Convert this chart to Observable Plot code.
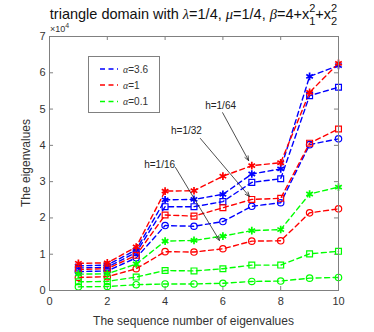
<!DOCTYPE html>
<html><head><meta charset="utf-8">
<script src="https://cdn.jsdelivr.net/npm/d3@7"></script>
<script src="https://cdn.jsdelivr.net/npm/@observablehq/plot@0.6"></script>
<style>body{margin:0;background:#fff;} svg{display:block;}</style>
</head><body>
<div id="chart"></div>
<script>
const seq = [1,2,3,4,5,6,7,8,9,10];
const xTicks = [0,2,4,6,8,10];
const yTicks = [0,1,2,3,4,5,6,7];
const alphaLabels = ["α=3.6","α=1","α=0.1"];
const colors = ["#0000ff","#ff0000","#00ff00"];
// values are in units of 10^4
const blueStar  = [0.68,0.70,1.12,2.50,2.51,2.65,3.21,3.35,5.90,6.20];
const blueSq    = [0.62,0.64,1.05,2.31,2.31,2.45,2.98,3.08,5.37,5.60];
const blueCirc  = [0.52,0.54,0.90,1.79,1.77,1.90,2.32,2.42,4.02,4.18];
const redStar   = [0.75,0.76,1.20,2.74,2.75,3.15,3.44,3.52,5.46,6.26];
const redSq     = [0.58,0.60,0.97,2.08,2.05,2.28,2.51,2.54,4.06,4.45];
const redCirc   = [0.36,0.38,0.60,1.07,1.06,1.15,1.36,1.37,2.14,2.25];
const greenStar = [0.45,0.46,0.73,1.36,1.38,1.50,1.65,1.68,2.66,2.85];
const greenSq   = [0.24,0.25,0.37,0.55,0.54,0.60,0.70,0.70,1.01,1.08];
const greenCirc = [0.10,0.11,0.16,0.18,0.18,0.20,0.25,0.26,0.34,0.36];
const annotations = [
  {label:"h=1/64", tx:5.92, ty:5.10, x1:5.99, y1:4.90, x2:6.89, y2:3.58},
  {label:"h=1/32", tx:4.74, ty:4.41, x1:5.22, y1:4.19, x2:6.92, y2:2.59},
  {label:"h=1/16", tx:3.81, ty:3.47, x1:4.36, y1:3.39, x2:5.88, y2:1.38}
];

const series = [
  {v:blueStar, c:0, s:"asterisk"},{v:blueSq, c:0, s:"square"},{v:blueCirc, c:0, s:"circle"},
  {v:redStar, c:1, s:"asterisk"},{v:redSq, c:1, s:"square"},{v:redCirc, c:1, s:"circle"},
  {v:greenStar, c:2, s:"asterisk"},{v:greenSq, c:2, s:"square"},{v:greenCirc, c:2, s:"circle"}
];

const W = 374, H = 332;
const mL = 49, mR = 36, mT = 36, mB = 42;
const plotH = H - mT - mB;
const font = "'Liberation Sans', Arial, sans-serif";
const axisCol = "#808080", textCol = "#333";

const marks = [];
for (const s of series) {
  const data = seq.map((x,i)=>({x, y:s.v[i]}));
  marks.push(Plot.line(data, {x:"x", y:"y", stroke:colors[s.c], strokeWidth:1.4, strokeDasharray:"5,3.5"}));
}
for (const s of series) {
  const data = seq.map((x,i)=>({x, y:s.v[i]}));
  marks.push(Plot.dot(data, {x:"x", y:"y", symbol:s.s, stroke:colors[s.c], fill:"none",
    r: s.s==="square"?3.3:(s.s==="circle"?3.2:3.6), strokeWidth: s.s==="asterisk"?1.7:1.2}));
}
marks.push(Plot.arrow(annotations, {x1:"x1", y1:"y1", x2:"x2", y2:"y2", stroke:"#222", strokeWidth:0.8, headLength:9, headAngle:45}));
marks.push(Plot.text(annotations, {x:"tx", y:"ty", text:"label", fontSize:10, fill:"#222"}));

const plot = Plot.plot({
  width: W, height: H,
  marginLeft: mL, marginRight: mR, marginTop: mT, marginBottom: mB,
  style: {fontFamily: font, background:"#fff", overflow:"visible"},
  x: {domain:[0,10], ticks: xTicks},
  y: {domain:[0,7], ticks: yTicks},
  marks: [
    Plot.ruleX(xTicks, {x:d=>d, insetTop: plotH-4, stroke:axisCol}),
    Plot.ruleX(xTicks, {x:d=>d, insetBottom: plotH-4, stroke:axisCol}),
    Plot.ruleY(yTicks, {y:d=>d, x1:0, x2:0.14, stroke:axisCol}),
    Plot.ruleY(yTicks, {y:d=>d, x1:9.86, x2:10, stroke:axisCol}),
    ...marks,
    Plot.frame({stroke: axisCol}),
    Plot.axisX({ticks:xTicks, tickSize:0, tickPadding:7, label:null, fontSize:11, color:textCol, tickFormat:d=>String(d)}),
    Plot.axisY({ticks:yTicks, tickSize:0, tickPadding:4, label:null, fontSize:11, color:textCol, tickFormat:d=>String(d)})
  ]
});
document.getElementById("chart").appendChild(plot);

const svg = d3.select(plot);
const sx = plot.scale("x"), sy = plot.scale("y");
const cx = (sx.apply(0)+sx.apply(10))/2;
const cy = (sy.apply(0)+sy.apply(7))/2;

// axis labels
svg.append("text").attr("x", cx).attr("y", 325).attr("text-anchor","middle")
  .attr("font-size", 12).attr("font-family", font).attr("fill", textCol)
  .text("The sequence number of eigenvalues");
svg.append("text").attr("transform", `translate(30,${cy}) rotate(-90)`).attr("text-anchor","middle")
  .attr("font-size", 12).attr("font-family", font).attr("fill", textCol)
  .text("The eigenvalues");
// exponent
const ex = svg.append("text").attr("x", 50).attr("y", 32).attr("font-size", 9)
  .attr("text-anchor","start").attr("font-family", font).attr("fill", textCol);
ex.append("tspan").text("×10");
ex.append("tspan").attr("dy", -4).attr("font-size", 7).text("4");

// title
const tg = svg.append("g").attr("text-anchor","start");
const pieces = [
  {t:"triangle domain with "}, {t:"λ", g:1}, {t:"=1/4, "}, {t:"μ", g:1}, {t:"=1/4, "},
  {t:"β", g:1}, {t:"=4+x"}, {sup:"2", sub:"1"}, {t:"+x"}, {sup:"2", sub:"2"}
];
let px = 0;
const baseY = 19;
for (const p of pieces) {
  if (p.t) {
    const el = tg.append("text").attr("x", px).attr("y", baseY).attr("font-size", 14.5)
      .attr("text-anchor","start").attr("xml:space","preserve").style("white-space","pre")
      .attr("fill", "#111").attr("font-family", p.g ? "'Liberation Serif', serif" : font)
      .attr("font-style", p.g ? "italic" : null).text(p.t);
    px += el.node().getComputedTextLength();
  } else {
    const a = tg.append("text").attr("x", px).attr("y", baseY-7).attr("font-size", 11)
      .attr("text-anchor","start").attr("fill", "#111").attr("font-family", font).text(p.sup);
    const b = tg.append("text").attr("x", px).attr("y", baseY+6).attr("font-size", 11)
      .attr("text-anchor","start").attr("fill", "#111").attr("font-family", font).text(p.sub);
    px += Math.max(a.node().getComputedTextLength(), b.node().getComputedTextLength());
  }
}
tg.attr("transform", `translate(${cx - px/2},0)`);

// legend
const lg = svg.append("g").attr("text-anchor","start");
lg.append("rect").attr("x", 88.5).attr("y", 56.5).attr("width", 71).attr("height", 56)
  .attr("fill", "#fff").attr("stroke", axisCol);
const ly = [69, 85, 101.5];
alphaLabels.forEach((lab, i) => {
  lg.append("line").attr("x1", 100).attr("x2", 118).attr("y1", ly[i]).attr("y2", ly[i])
    .attr("stroke", colors[i]).attr("stroke-width", 1.4).attr("stroke-dasharray", "5,3.5");
  const t = lg.append("text").attr("x", 123).attr("y", ly[i]+3.5).attr("font-size", 10)
    .attr("text-anchor","start").attr("font-family", font).attr("fill", textCol);
  t.append("tspan").attr("font-family", "'Liberation Serif', serif").attr("font-style","italic").text(lab.slice(0,1));
  t.append("tspan").text(lab.slice(1));
});
</script>
</body></html>
